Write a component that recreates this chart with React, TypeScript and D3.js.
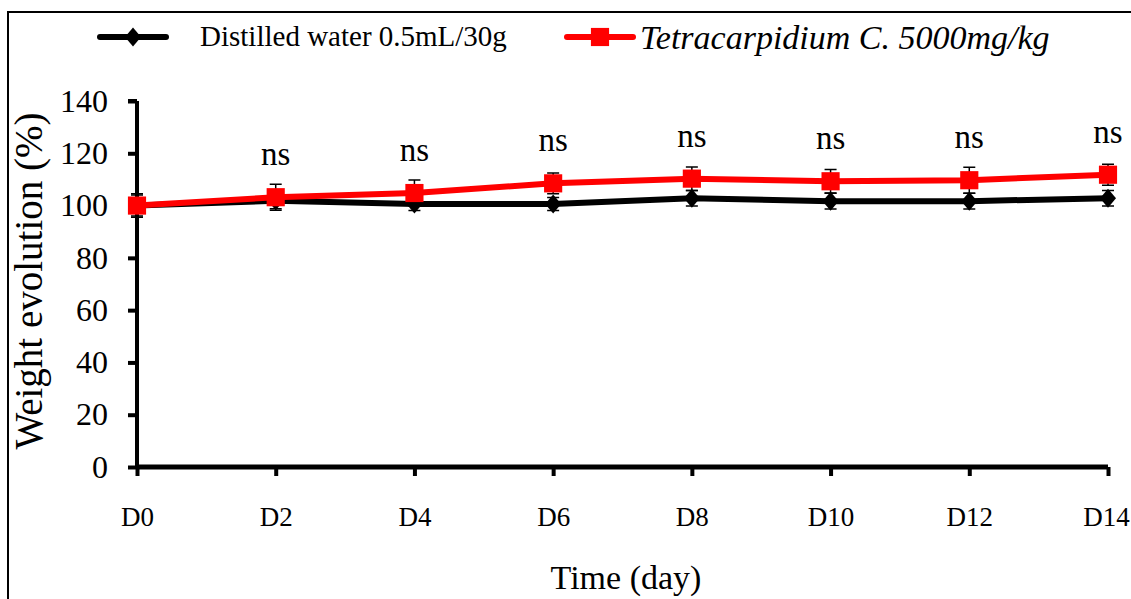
import React from "react";
import * as d3 from "d3";

const days = ["D0", "D2", "D4", "D6", "D8", "D10", "D12", "D14"];
const waterMean = [100, 101.8, 100.6, 100.6, 102.8, 101.7, 101.7, 102.8];
const waterErr = [4.5, 3, 2.5, 2.5, 3, 3, 3, 3];
const extractMean = [100, 103.2, 104.8, 108.5, 110.3, 109.3, 109.7, 111.8];
const extractErr = [4, 5, 5, 4, 4.5, 4.5, 5, 4];
const yTicks = [0, 20, 40, 60, 80, 100, 120, 140];
const sigLabels = ["", "ns", "ns", "ns", "ns", "ns", "ns", "ns"];

const W = 1131;
const H = 599;
const font = "Liberation Serif";

// diamond a bit taller than wide, like the Excel marker
const diamond = (hw: number, hh: number) => `M0,${-hh}L${hw},0L0,${hh}L${-hw},0Z`;

export default function App() {
  const svgRef = React.useRef<SVGSVGElement>(null);

  React.useEffect(() => {
    const svg = d3.select(svgRef.current);
    svg.selectAll("*").remove();

    const x = d3.scalePoint().domain(days).range([137, 1108]);
    const y = d3.scaleLinear().domain([0, 140]).range([467, 101]);

    // outer frame
    svg
      .append("rect")
      .attr("x", 8)
      .attr("y", 12)
      .attr("width", W + 20)
      .attr("height", H + 20)
      .attr("fill", "none")
      .attr("stroke", "#000")
      .attr("stroke-width", 2);

    // y axis
    const yAxis = d3.axisLeft(y).tickValues(yTicks).tickSize(9).tickPadding(20);
    const gy = svg
      .append("g")
      .attr("transform", `translate(${x("D0")},0)`)
      .call(yAxis)
      .attr("font-family", font)
      .attr("font-size", 32);
    gy.select(".domain").attr("stroke-width", 4).attr("d", `M0,${y(140)}V${y(0)}M-9,${y(140)}H0`);
    gy.selectAll(".tick line").attr("stroke-width", 4);
    gy.selectAll(".tick text").attr("fill", "#000");

    // x axis
    const xAxis = d3.axisBottom(x).tickSize(9).tickPadding(31);
    const gx = svg
      .append("g")
      .attr("transform", `translate(0,${y(0)})`)
      .call(xAxis)
      .attr("font-family", font)
      .attr("font-size", 27);
    gx.select(".domain").attr("stroke-width", 5).attr("d", `M${x("D0")},0H${x("D14")}`);
    gx.selectAll(".tick line").attr("stroke-width", 4);
    gx.selectAll(".tick text").attr("fill", "#000");
    // last label sits against the right edge
    gx.selectAll<SVGTextElement, string>(".tick text")
      .filter((d) => d === "D14")
      .attr("dx", -2);

    // axis titles
    svg
      .append("text")
      .attr("transform", `translate(42,281) rotate(-90)`)
      .attr("text-anchor", "middle")
      .attr("font-family", font)
      .attr("font-size", 39)
      .text("Weight evolution (%)");
    svg
      .append("text")
      .attr("x", 626)
      .attr("y", 589)
      .attr("text-anchor", "middle")
      .attr("font-family", font)
      .attr("font-size", 34)
      .text("Time (day)");

    const series = [
      { mean: waterMean, err: waterErr, color: "#000", shape: "diamond" },
      { mean: extractMean, err: extractErr, color: "#ff0000", shape: "square" },
    ];

    const line = d3
      .line<number>()
      .x((_, i) => x(days[i]) as number)
      .y((d) => y(d));

    series.forEach((s) => {
      const g = svg.append("g");
      // error bars
      s.mean.forEach((m, i) => {
        const cx = x(days[i]) as number;
        const top = y(m + s.err[i]);
        const bot = y(m - s.err[i]);
        g.append("path")
          .attr("d", `M${cx},${top}V${bot}M${cx - 6},${top}H${cx + 6}M${cx - 6},${bot}H${cx + 6}`)
          .attr("stroke", "#000")
          .attr("stroke-width", 1.5)
          .attr("fill", "none");
      });
      g.append("path")
        .datum(s.mean)
        .attr("d", line)
        .attr("fill", "none")
        .attr("stroke", s.color)
        .attr("stroke-width", 6);
      const shape = s.shape === "square" ? d3.symbol().type(d3.symbolSquare).size(330)() : diamond(8, 9.5);
      g.selectAll("path.mark")
        .data(s.mean)
        .join("path")
        .attr("class", "mark")
        .attr("transform", (d, i) => `translate(${x(days[i])},${y(d)})`)
        .attr("d", shape)
        .attr("fill", s.color);
    });

    // significance labels
    svg
      .selectAll("text.sig")
      .data(sigLabels)
      .join("text")
      .attr("class", "sig")
      .attr("x", (_, i) => x(days[i]) as number)
      .attr("y", (_, i) => y(extractMean[i]) - 32)
      .attr("text-anchor", "middle")
      .attr("font-family", font)
      .attr("font-size", 33)
      .text((d) => d);

    // legend
    const lg = svg.append("g");
    lg.append("path").attr("d", "M100,37H166").attr("stroke", "#000").attr("stroke-width", 6).attr("stroke-linecap", "round");
    lg.append("path").attr("transform", "translate(133,37)").attr("d", diamond(8, 9.5)).attr("fill", "#000");
    lg.append("text")
      .attr("x", 200)
      .attr("y", 46)
      .attr("font-family", font)
      .attr("font-size", 29)
      .text("Distilled water 0.5mL/30g");
    lg.append("path").attr("d", "M567,37H633").attr("stroke", "#ff0000").attr("stroke-width", 6).attr("stroke-linecap", "round");
    lg.append("path")
      .attr("transform", "translate(600,37)")
      .attr("d", d3.symbol().type(d3.symbolSquare).size(330)())
      .attr("fill", "#ff0000");
    lg.append("text")
      .attr("x", 640)
      .attr("y", 49)
      .attr("font-family", font)
      .attr("font-size", 34)
      .attr("font-style", "italic")
      .text("Tetracarpidium C. 5000mg/kg");
  }, []);

  return (
    <svg
      ref={svgRef}
      width={W}
      height={H}
      style={{ position: "absolute", left: 0, top: 0, background: "#fff" }}
    />
  );
}
